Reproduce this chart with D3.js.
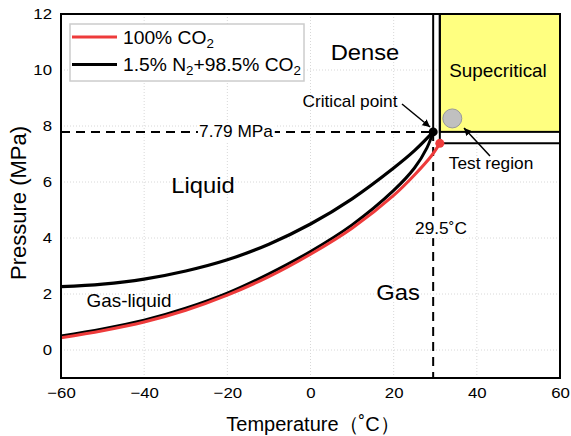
<!DOCTYPE html>
<html>
<head>
<meta charset="UTF-8">
<style>
  body { margin: 0; background: #fff; }
  text { font-family: "Liberation Sans", Arial, sans-serif; fill: #000; }
  .grid line { stroke: #d8d8d8; stroke-dasharray: 1,2; }
</style>
</head>
<body>
<svg id="chart" width="571" height="436"></svg>
<script src="https://cdn.jsdelivr.net/npm/d3@7"></script>
<script>
// data
var xTicks = [-60, -40, -20, 0, 20, 40, 60];
var yTicks = [0, 2, 4, 6, 8, 10, 12];
var seriesNames = ["100% CO2", "1.5% N2+98.5% CO2"];

var co2T = [-60, -50, -40, -30, -20, -10, 0, 10, 20, 25, 29, 31.1];
var co2P = [0.44, 0.69, 1.0, 1.42, 1.96, 2.62, 3.42, 4.35, 5.52, 6.25, 6.92, 7.38];

var mixLowT = [-60, -50, -40, -30, -20, -10, 0, 10, 20, 25, 28, 29.5];
var mixLowP = [0.5, 0.75, 1.06, 1.49, 2.03, 2.72, 3.52, 4.47, 5.7, 6.5, 7.22, 7.79];

var mixUpT = [-60, -50, -40, -30, -20, -10, 0, 10, 20, 25, 29.5];
var mixUpP = [2.26, 2.35, 2.53, 2.82, 3.22, 3.78, 4.5, 5.4, 6.5, 7.12, 7.79];

var critMix = {t: 29.5, p: 7.79};
var critCO2 = {t: 31.1, p: 7.38};
var testPoint = {t: 34.1, p: 8.27};

var width = 571, height = 436;
var svg = d3.select("#chart");
var x = d3.scaleLinear().domain([-60, 60]).range([61, 560]);
var y = d3.scaleLinear().domain([-1, 12]).range([378, 14]);

// text helper, the source figure's lettering is slightly wide
function label(tx, ty, str, size, anchor, sx) {
  return svg.append("text")
      .attr("transform", "translate(" + tx + "," + ty + ") scale(" + (sx || 1.08) + ",1)")
      .attr("text-anchor", anchor || "middle")
      .style("font-size", size + "px").text(str);
}

// grid
var grid = svg.append("g").attr("class", "grid");
grid.selectAll(".gx").data(xTicks.slice(1, -1)).enter().append("line")
    .attr("x1", d => x(d)).attr("x2", d => x(d)).attr("y1", y(12)).attr("y2", y(-1));
grid.selectAll(".gy").data(yTicks.slice(0, -1)).enter().append("line")
    .attr("x1", x(-60)).attr("x2", x(60)).attr("y1", d => y(d)).attr("y2", d => y(d));

// supercritical box
svg.append("rect")
    .attr("x", x(critCO2.t)).attr("y", y(12))
    .attr("width", x(60) - x(critCO2.t)).attr("height", y(critMix.p) - y(12))
    .attr("fill", "#ffff80").attr("stroke", "#000").attr("stroke-width", 2);

var solid = [
  [[critMix.t, critMix.p], [critMix.t, 12]],
  [[critCO2.t, critCO2.p], [critCO2.t, 12]],
  [[critCO2.t, critCO2.p], [60, critCO2.p]]
];
svg.selectAll(".solid").data(solid).enter().append("line")
    .attr("x1", d => x(d[0][0])).attr("y1", d => y(d[0][1]))
    .attr("x2", d => x(d[1][0])).attr("y2", d => y(d[1][1]))
    .attr("stroke", "#000").attr("stroke-width", 2);

// dashed guides
svg.append("line")
    .attr("x1", x(-60)).attr("x2", x(critMix.t)).attr("y1", y(critMix.p)).attr("y2", y(critMix.p))
    .attr("stroke", "#000").attr("stroke-width", 2).attr("stroke-dasharray", "9,6");
svg.append("line")
    .attr("x1", x(critMix.t)).attr("x2", x(critMix.t)).attr("y1", y(critMix.p)).attr("y2", y(-1))
    .attr("stroke", "#000").attr("stroke-width", 2).attr("stroke-dasharray", "9,6");

// curves
var line = d3.line().curve(d3.curveCatmullRom.alpha(0.5)).x(d => x(d[0])).y(d => y(d[1]));
var zip = (a, b) => a.map((v, i) => [v, b[i]]);
svg.append("path").datum(zip(mixLowT, mixLowP)).attr("d", line)
    .attr("fill", "none").attr("stroke", "#000").attr("stroke-width", 3);
svg.append("path").datum(zip(co2T, co2P)).attr("d", line)
    .attr("fill", "none").attr("stroke", "#ee3b3b").attr("stroke-width", 3);
svg.append("path").datum(zip(mixUpT, mixUpP)).attr("d", line)
    .attr("fill", "none").attr("stroke", "#000").attr("stroke-width", 3.2);

svg.append("circle").attr("cx", x(critCO2.t)).attr("cy", y(critCO2.p)).attr("r", 4.5).attr("fill", "#ee3b3b");
svg.append("circle").attr("cx", x(critMix.t)).attr("cy", y(critMix.p)).attr("r", 4.5).attr("fill", "#000");
svg.append("circle").attr("cx", x(testPoint.t)).attr("cy", y(testPoint.p)).attr("r", 9.5)
    .attr("fill", "#c0c0c0").attr("stroke", "#999").attr("stroke-width", 1);

// frame
svg.append("rect").attr("x", x(-60)).attr("y", y(12))
    .attr("width", x(60) - x(-60)).attr("height", y(-1) - y(12))
    .attr("fill", "none").attr("stroke", "#000").attr("stroke-width", 2);

// axes
var xAxis = svg.append("g").attr("transform", "translate(0," + y(-1) + ")")
    .call(d3.axisBottom(x).tickValues(xTicks).tickSize(0).tickPadding(9));
var yAxis = svg.append("g").attr("transform", "translate(" + x(-60) + ",0)")
    .call(d3.axisLeft(y).tickValues(yTicks).tickSize(0).tickPadding(8));
[xAxis, yAxis].forEach(a => {
  a.select(".domain").remove();
  a.selectAll("text").style("font-family", '"Liberation Sans", Arial, sans-serif')
      .style("font-size", "15px").attr("fill", "#000")
      .attr("transform", "scale(1.12,1)");
});

svg.append("text").attr("x", 313).attr("y", 431).attr("text-anchor", "middle")
    .style("font-size", "20px").text("Temperature（˚C）");
svg.append("text").attr("transform", "translate(26,203) rotate(-90)").attr("text-anchor", "middle")
    .style("font-size", "22px").text("Pressure (MPa)");

// labels on guides
function boxedLabel(tx, ty, str, size) {
  var t = label(tx, ty, str, size).attr("dominant-baseline", "central");
  var b = t.node().getBBox();
  svg.insert("rect", function () { return t.node(); })
      .attr("x", tx + (b.x - 1) * 1.08).attr("y", ty + b.y)
      .attr("width", (b.width + 2) * 1.08).attr("height", b.height).attr("fill", "#fff");
  return t;
}
boxedLabel(236, y(critMix.p), "7.79 MPa", 16);
boxedLabel(441, 229, "29.5˚C", 16);

// region labels
label(365, 60, "Dense", 22);
label(498, 77, "Supecritical", 17.5);
label(203, 193, "Liquid", 22);
label(129, 307, "Gas-liquid", 17.5);
label(398, 300, "Gas", 22);
label(350, 107, "Critical point", 16);
label(491, 169, "Test region", 16);

// arrows
var defs = svg.append("defs");
defs.append("marker").attr("id", "arr").attr("viewBox", "0 0 10 10").attr("refX", 10).attr("refY", 5)
    .attr("markerWidth", 5).attr("markerHeight", 5).attr("orient", "auto")
    .append("path").attr("d", "M0,0L10,5L0,10z").attr("fill", "#000");
svg.append("line").attr("x1", 402).attr("y1", 104).attr("x2", 430).attr("y2", 127)
    .attr("stroke", "#000").attr("stroke-width", 1.5).attr("marker-end", "url(#arr)");
svg.append("line").attr("x1", 490).attr("y1", 156).attr("x2", 464).attr("y2", 128)
    .attr("stroke", "#000").attr("stroke-width", 1.5).attr("marker-end", "url(#arr)");

// legend
var leg = svg.append("g");
leg.append("rect").attr("x", 70).attr("y", 24).attr("width", 234).attr("height", 57)
    .attr("fill", "#fff").attr("stroke", "#ccc").attr("stroke-width", 1.5);
var legColors = ["#ee3b3b", "#000"];
seriesNames.forEach(function (name, i) {
  var ly = 37 + i * 27.5;
  leg.append("line").attr("x1", 72).attr("x2", 117).attr("y1", ly).attr("y2", ly)
      .attr("stroke", legColors[i]).attr("stroke-width", 3);
  var t = leg.append("text").attr("transform", "translate(123," + (ly + 6.5) + ") scale(1.07,1)")
      .style("font-size", "18px");
  // subscripts for N2 / CO2
  name.replace(/([A-Za-z])2/g, "$1\u00002").split("\u0000").forEach(function (seg, k) {
    if (k === 0) { t.append("tspan").text(seg); return; }
    t.append("tspan").attr("dy", 4).style("font-size", "12.5px").text(seg[0]);
    if (seg.length > 1) t.append("tspan").attr("dy", -4).text(seg.slice(1));
  });
});
</script>
</body>
</html>
